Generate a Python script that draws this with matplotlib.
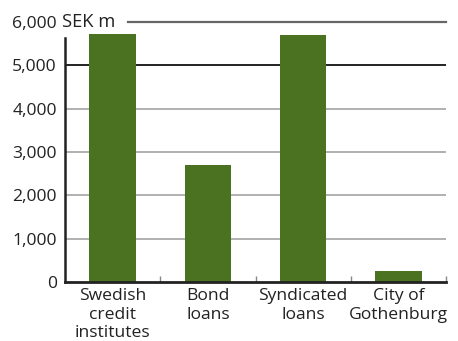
import matplotlib
matplotlib.use("Agg")
import matplotlib.pyplot as plt
from matplotlib.ticker import FuncFormatter
import matplotlib.transforms as mtransforms

categories = ["Swedish\ncredit\ninstitutes", "Bond\nloans", "Syndicated\nloans", "City of\nGothenburg"]
values = [5720, 2700, 5700, 250]
y_ticks = [0, 1000, 2000, 3000, 4000, 5000, 6000]
unit_label = "SEK m"

plt.rcParams["font.family"] = ["Open Sans", "DejaVu Sans"]
FS = 12.6

W, H = 458, 341
fig = plt.figure(figsize=(W / 100, H / 100), dpi=100)
ax = fig.add_axes([65 / W, 59 / H, (446 - 65) / W, (282 - 22) / H])

x = list(range(len(categories)))
ax.bar(x, values, width=0.49, color="#4b7220", zorder=3)

ax.set_xlim(-0.5, len(categories) - 0.5)
ax.set_ylim(0, 6000)

# horizontal reference lines
for v in y_ticks[1:]:
    if v == 6000:
        ax.axhline(v, xmin=0.165, xmax=1, color="#666666", lw=1.6, zorder=1, clip_on=False)
    elif v == 5000:
        ax.axhline(v, color="#222222", lw=1.4, zorder=1)
    else:
        ax.axhline(v, color="#aaaaaa", lw=1.3, zorder=1)

for s in ["top", "right"]:
    ax.spines[s].set_visible(False)
ax.spines["left"].set_bounds(0, 5640)
ax.spines["left"].set_linewidth(1.8)
ax.spines["left"].set_color("#222222")
ax.spines["bottom"].set_linewidth(2.0)
ax.spines["bottom"].set_color("#222222")
ax.spines["bottom"].set_zorder(4)

ax.set_yticks(y_ticks)
ax.yaxis.set_major_formatter(FuncFormatter(lambda v, p: f"{int(v):,}"))
ax.tick_params(axis="y", length=0, pad=6, labelsize=FS, colors="#222222")

ax.set_xticks(x)
ax.set_xticklabels(categories, linespacing=1.2)
ax.tick_params(axis="x", which="major", length=0, pad=4.5, labelsize=FS, colors="#222222")
ax.set_xticks([0.5, 1.5, 2.5, 3.5], minor=True)
ax.tick_params(axis="x", which="minor", direction="in", length=4, width=1, color="#888888")

trans = mtransforms.blended_transform_factory(ax.transAxes, ax.transData)
ax.text(-0.008, 6000, unit_label, transform=trans, ha="left", va="center",
        fontsize=FS + 0.6, color="#222222")

fig.savefig("out.png", dpi=100)
